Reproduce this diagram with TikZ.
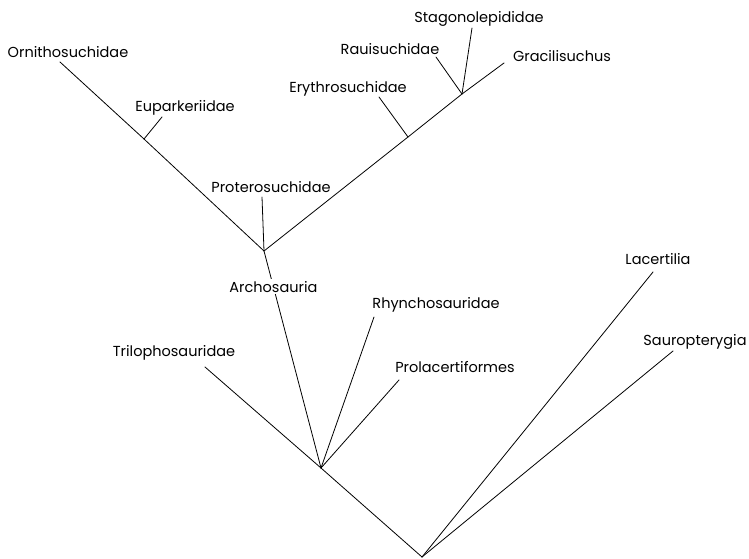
\documentclass[tikz,border=0pt]{standalone}
\usepackage{fontspec}
\setmainfont{Poppins}
\usepackage{tikz}

\begin{document}
\begin{tikzpicture}[x=1pt, y=-1pt]
                \tikzstyle{taxon} = [inner sep=0pt, anchor=base, font=\fontsize{14.5}{16}\selectfont]
                \tikzstyle{branch} = [draw, line width=0.8pt, line cap=round, line join=round]

                \useasboundingbox (0,0) rectangle (749,559);

                % junctions
                \coordinate (root) at (422,557);
                \coordinate (lep) at (321,468);
                \coordinate (arch) at (264,251);
                \coordinate (eup) at (144,139);
                \coordinate (ery) at (408,137);
                \coordinate (rau) at (462,94);

                % branch tips
                \coordinate (tOrni) at (60,62);
                \coordinate (tEup) at (162,117);
                \coordinate (tProt) at (262,197);
                \coordinate (tEry) at (379,97);
                \coordinate (tRau) at (436,57);
                \coordinate (tStag) at (472,28);
                \coordinate (tGrac) at (504,63);
                \coordinate (tRhyn) at (374,317);
                \coordinate (tTril) at (205,367);
                \coordinate (tProl) at (399,380);
                \coordinate (tLac) at (653,272);
                \coordinate (tSaur) at (673,351);

                \node [taxon] (orni) at (68,58) {Ornithosuchidae};
                \node [taxon] (eupl) at (185,112) {Euparkeriidae};
                \node [taxon] (prot) at (271,192) {Proterosuchidae};
                \node [taxon] (eryl) at (348,93) {Erythrosuchidae};
                \node [taxon] (raul) at (390,55) {Rauisuchidae};
                \node [taxon] (stag) at (479,23) {Stagonolepididae};
                \node [taxon] (grac) at (562,62) {Gracilisuchus};
                \node [taxon] (rhyn) at (436,308) {Rhynchosauridae};
                \node [taxon] (tril) at (174,356) {Trilophosauridae};
                \node [taxon] (prol) at (455,372) {Prolacertiformes};
                \node [taxon] (lac) at (658,264) {Lacertilia};
                \node [taxon] (saur) at (695,345) {Sauropterygia};

                % archosaur crown
                \path [branch] (tOrni) -- (eup) -- (arch) -- (ery) -- (rau) -- (tGrac);
                \path [branch] (eup) -- (tEup);
                \path [branch] (arch) -- (tProt);
                \path [branch] (ery) -- (tEry);
                \path [branch] (rau) -- (tRau);
                \path [branch] (rau) -- (tStag);

                % stem, label sits on the line
                \path [branch] (arch) -- (lep) node[pos=0.165, fill=white, inner sep=2pt, font=\fontsize{14.5}{16}\selectfont] (archl) {Archosauria};
                \path [branch] (lep) -- (tTril);
                \path [branch] (lep) -- (tRhyn);
                \path [branch] (lep) -- (tProl);
                \path [branch] (lep) -- (root);

                % outgroups
                \path [branch] (root) -- (tLac);
                \path [branch] (root) -- (tSaur);
\end{tikzpicture}
\end{document}
